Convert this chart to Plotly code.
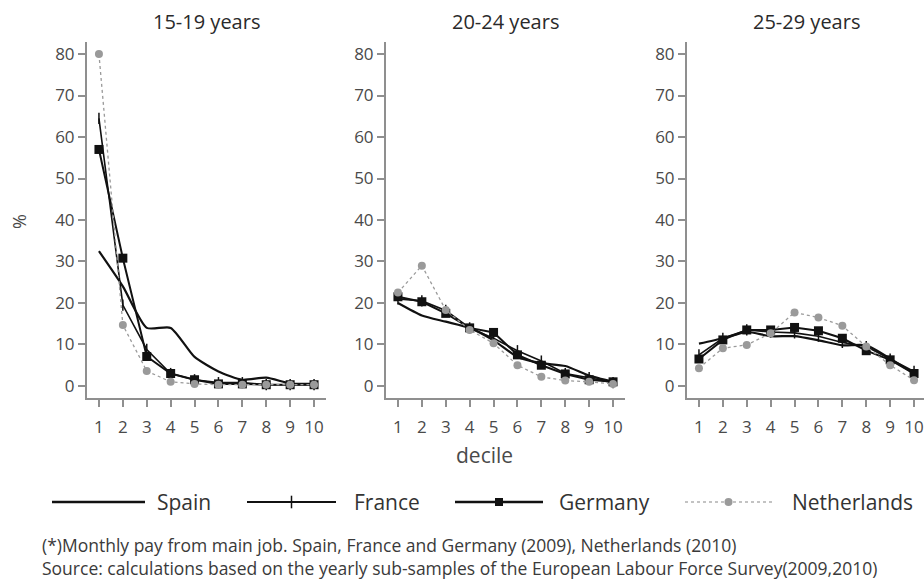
import plotly.graph_objects as go

W, H = 924, 580

deciles = list(range(1, 11))
age_groups = ["15-19 years", "20-24 years", "25-29 years"]

# share of workers (%) in each pay decile, by age group
spain = {
    "15-19 years": [32.5, 24, 14, 14, 7, 3.5, 1.5, 2, 0.6, 0.5],
    "20-24 years": [20, 17, 15.5, 14, 11, 7, 5.5, 4.8, 2.5, 1],
    "25-29 years": [10.2, 11.5, 13, 12, 12, 11, 9.8, 9.8, 6.6, 3],
}
france = {
    "15-19 years": [64.5, 19.5, 8.8, 3, 1.5, 0.8, 0.8, 0.3, 0.3, 0.3],
    "20-24 years": [21, 20.5, 18.2, 14, 11.5, 8.5, 6, 3, 2, 0.8],
    "25-29 years": [7.5, 11.5, 13.5, 13, 12.8, 12, 10.5, 9.5, 6.5, 3.5],
}
germany = {
    "15-19 years": [57, 30.8, 7.1, 3, 1.5, 0.5, 0.5, 0.3, 0.3, 0.3],
    "20-24 years": [21.5, 20.3, 17.5, 14, 12.9, 7.5, 5, 2.9, 1.5, 1],
    "25-29 years": [6.5, 11.1, 13.5, 13.5, 14.1, 13.3, 11.5, 8.5, 6.3, 3],
}
netherlands = {
    "15-19 years": [80, 14.7, 3.6, 1, 0.5, 0.3, 0.3, 0.3, 0.3, 0.3],
    "20-24 years": [22.5, 29, 18.3, 13.5, 10.3, 5, 2.2, 1.3, 1, 0.5],
    "25-29 years": [4.3, 9.1, 9.9, 12.7, 17.7, 16.5, 14.5, 9.5, 5, 1.4],
}

y_ticks = [0, 10, 20, 30, 40, 50, 60, 70, 80]

FONT = "Open Sans"
BLACK = "#111111"
GREY = "#9a9a9a"
AXIS = "#8f8f8f"
TEXT = "#4a4a4a"
CLEAR = "rgba(0,0,0,0)"

# panel placement in pixels
panel_left = [87, 386, 687]
panel_width = 239
plot_top, plot_bottom = 42, 398


def px_x(v):
    return v / W


def px_y(v):
    return 1 - v / H


fig = go.Figure()

styles = [
    ("Spain", spain, dict(color=BLACK, width=2.2, shape="spline", smoothing=0.6), None),
    ("France", france, dict(color=BLACK, width=1.6), dict(symbol="line-ns", size=8,
                                                           line=dict(color=BLACK, width=1.5))),
    ("Germany", germany, dict(color=BLACK, width=2), dict(symbol="square", size=9, color=BLACK)),
    ("Netherlands", netherlands, dict(color=GREY, width=1.3, dash="dot"),
     dict(symbol="circle", size=8, color=GREY)),
]

for i, grp in enumerate(age_groups):
    ax = "" if i == 0 else str(i + 1)
    for name, data, line, marker in styles:
        fig.add_trace(go.Scatter(
            x=deciles, y=data[grp], name=name,
            mode="lines+markers" if marker else "lines",
            line=line, marker=marker, showlegend=False,
            xaxis="x" + ax, yaxis="y" + ax, cliponaxis=False,
        ))

for i, grp in enumerate(age_groups):
    ax = "" if i == 0 else str(i + 1)
    left = panel_left[i]
    right = min(left + panel_width, W)
    span_units = (right - left) / (panel_width / 10.0)
    x_dom = [px_x(left), px_x(right)]
    common_tick = dict(ticks="outside", ticklen=7, tickwidth=1.5, tickcolor=AXIS,
                       showline=True, linecolor=AXIS, linewidth=2,
                       showgrid=False, zeroline=False,
                       tickfont=dict(family=FONT, size=17, color=TEXT))
    fig.update_layout({
        "xaxis" + ax: dict(domain=x_dom, range=[0.5, 0.5 + span_units],
                           tickvals=deciles, anchor="y" + ax,
                           ticklabelstandoff=6, **common_tick),
        "yaxis" + ax: dict(domain=[px_y(plot_bottom), px_y(plot_top)],
                           range=[-2.9, 82.9], tickvals=y_ticks,
                           anchor="x" + ax, **common_tick),
    })
    fig.add_annotation(text=grp, x=px_x(left + 119), y=px_y(22), xref="paper", yref="paper",
                       showarrow=False, font=dict(family=FONT, size=20, color="#2a2a2a"),
                       xanchor="center", yanchor="middle")

fig.add_annotation(text="%", x=px_x(19), y=px_y(222), xref="paper", yref="paper",
                   showarrow=False, textangle=-90, xanchor="center", yanchor="middle",
                   font=dict(family=FONT, size=18, color=TEXT))
fig.add_annotation(text="decile", x=px_x(484), y=px_y(455), xref="paper", yref="paper",
                   showarrow=False, xanchor="center", yanchor="middle",
                   font=dict(family=FONT, size=21, color=TEXT))

# legend drawn on a hidden pixel-scaled axis
fig.update_layout(
    xaxis4=dict(domain=[0, 1], range=[0, W], visible=False, anchor="y4"),
    yaxis4=dict(domain=[0, 1], range=[H, 0], visible=False, anchor="x4"),
)
legend_y = 502
legend_items = [
    ("Spain", 52, 145, 155, dict(color=BLACK, width=2.5), None),
    ("France", 247, 336, 352, dict(color=BLACK, width=2), dict(symbol="line-ns", size=9,
                                                               line=dict(color=BLACK, width=1.5))),
    ("Germany", 455, 543, 557, dict(color=BLACK, width=2.5), dict(symbol="square", size=8, color=BLACK)),
    ("Netherlands", 685, 772, 790, dict(color="#b0b0b0", width=1.3, dash="dot"),
     dict(symbol="circle", size=8, color=GREY)),
]
for name, x0, x1, tx, line, marker in legend_items:
    fig.add_trace(go.Scatter(x=[x0, x1], y=[legend_y, legend_y], mode="lines", line=line,
                             showlegend=False, xaxis="x4", yaxis="y4", hoverinfo="skip"))
    if marker:
        fig.add_trace(go.Scatter(x=[(x0 + x1) / 2], y=[legend_y], mode="markers", marker=marker,
                                 showlegend=False, xaxis="x4", yaxis="y4", hoverinfo="skip"))
    fig.add_annotation(text=name, x=px_x(tx), y=px_y(legend_y), xref="paper", yref="paper",
                       showarrow=False, xanchor="left", yanchor="middle",
                       font=dict(family=FONT, size=21, color="#333333"))

notes = [
    "(*)Monthly pay from main job. Spain, France and Germany (2009), Netherlands (2010)",
    "Source: calculations based on the yearly sub-samples of the European Labour Force Survey(2009,2010)",
]
for k, note in enumerate(notes):
    fig.add_annotation(text=note, x=px_x(40), y=px_y(545 + 23 * k), xref="paper", yref="paper",
                       showarrow=False, xanchor="left", yanchor="middle",
                       font=dict(family=FONT, size=17.5, color="#3a3a3a"))

fig.update_layout(
    width=W, height=H,
    margin=dict(l=0, r=0, t=0, b=0),
    paper_bgcolor="white", plot_bgcolor=CLEAR,
    showlegend=False,
)

fig.write_html("out.html")
